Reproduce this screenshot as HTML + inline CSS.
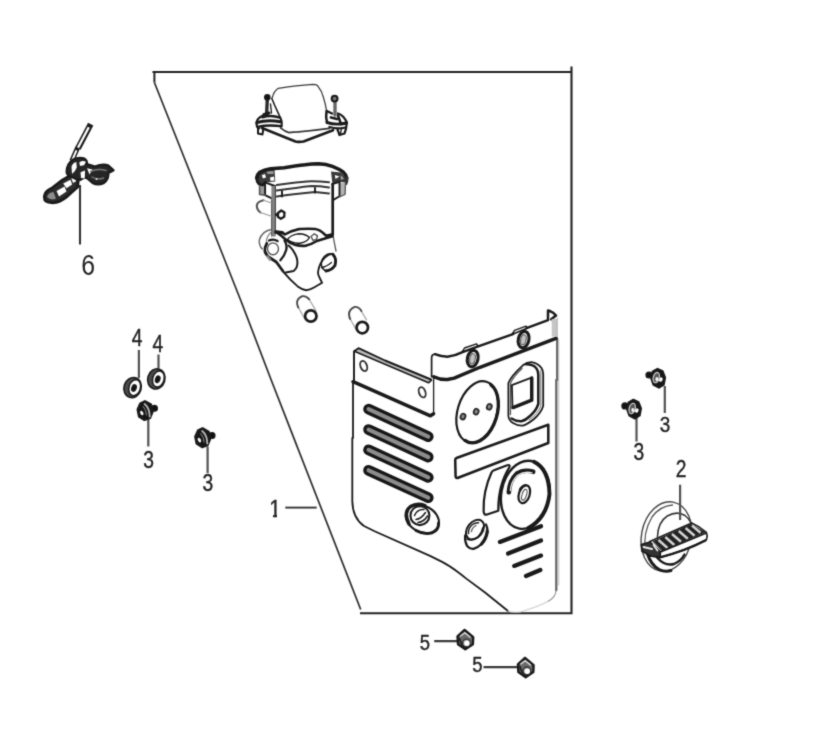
<!DOCTYPE html>
<html lang="en">
<head>
<meta charset="utf-8">
<title>Parts diagram</title>
<style>
html,body{margin:0;padding:0;background:#fff;}
body{width:827px;height:730px;overflow:hidden;font-family:"Liberation Sans",sans-serif;}
svg{display:block;}
.s{fill:none;stroke:#1a1a1a;stroke-linecap:round;stroke-linejoin:round;}
.t{font-family:"Liberation Sans",sans-serif;fill:#222;stroke:#222;stroke-width:.4px;}
</style>
</head>
<body>
<svg width="827" height="730" viewBox="0 0 827 730">
<defs><filter id="soft" x="0" y="0" width="827" height="730" filterUnits="userSpaceOnUse" color-interpolation-filters="sRGB"><feConvolveMatrix order="3" kernelMatrix="1 4 1 4 20 4 1 4 1" edgeMode="duplicate" preserveAlpha="false"/></filter></defs>
<rect width="827" height="730" fill="#fff"/>
<g filter="url(#soft)">
<g id="frame" class="s" style="stroke:#222;stroke-linecap:butt;stroke-linejoin:miter">
<path d="M152.500 72H572" stroke-width="2.100"/>
<path d="M571.500 66.500V613.300H360" stroke-width="2.100"/>
<path d="M154.400 72V82.500" stroke-width="2"/>
<path d="M154.400 82.500L240.600 300L271.200 380L360.700 609.500" stroke-width="1.750" style="stroke:#303030"/>
</g>
<g id="panel" class="s" stroke-width="2">
<!-- left flange -->
<path d="M356 350.800L358.500 348.800L385 360.800L431 379.600L428.500 382.500L355.500 351.500Z" style="fill:#bdbdbd;stroke:none"/>
<path d="M354 382V351.300L358.500 348.200L385 360.500L431 379.500" stroke-width="1.900"/>
<path d="M355 351.400L428.500 382.800L431.500 380.200" stroke-width="1.600"/>
<path d="M353 381.700L430.400 415.800L433.600 413.800" stroke-width="3.500"/>
<path d="M433.6 378V414" stroke-width="1.3"/>
<ellipse cx="363.700" cy="366" rx="3.200" ry="5.300" transform="rotate(-20 363.700 366)" stroke-width="1.900" style="stroke:#333"/>
<ellipse cx="422.200" cy="392.300" rx="3.200" ry="5.300" transform="rotate(-20 422.200 392.300)" stroke-width="1.900" style="stroke:#333"/>
<!-- panel outline -->
<path d="M353 382V438M352.300 438V501C352.500 512 356 520.500 364 526L374.600 531.200L430 555.900L442.100 561.900Q452 567 466.300 578.600L484.400 592L508 611" stroke-width="1.800"/>
<path d="M508 611Q512 613 521 611.800Q540 606 548.500 601" stroke-width="1.200" style="stroke:#cfcfcf"/>
<path d="M548.500 601Q556 597 556 590" stroke-width="1.200" style="stroke:#999"/>
<path d="M557.200 339V380M556.300 380V590" stroke-width="2.300" style="stroke:#666"/>
<path d="M558.800 340V585" stroke-width="1" style="stroke:#c4c4c4"/>
<!-- right bracket -->
<path d="M431.600 376.700V358Q431.600 354.500 435 354.200" stroke-width="1.700"/>
<path d="M435 354.200Q441 356.800 447.400 356.800Q455 356 462.500 352.200L477.500 346.600L513 334.100M526.500 328.200L548 320.200V310.500Q553 311.500 556 315.600L551.200 319.200" stroke-width="2.500"/>
<path d="M551.700 319H557V336.500H551.700Z" style="fill:#c6c6c6;stroke:none"/>
<path d="M557.200 318V338" stroke-width="1" style="stroke:#aaa"/>
<path d="M433.700 376.700Q440 379.800 447.400 379.500L454.200 378.100L480 367.300L556 338.400" stroke-width="3.400"/>
<path d="M462.500 351.500L464.500 348L476.500 343.800L478 346" stroke-width="1.400"/>
<circle cx="463" cy="351.600" r="1.300" style="fill:#1a1a1a;stroke:none"/>
<path d="M512.500 333.700L514.500 330.300L526 326.200L527.500 328" stroke-width="1.400"/>
<circle cx="513" cy="333.800" r="1.300" style="fill:#1a1a1a;stroke:none"/>
<path d="M513 334.100L526.500 328.600" stroke-width="1.600"/>
<ellipse cx="472.700" cy="358.600" rx="5.300" ry="8.300" transform="rotate(12 472.700 358.600)" stroke-width="3.100"/>
<ellipse cx="472.500" cy="358.800" rx="2.700" ry="5.200" transform="rotate(12 472.500 358.800)" stroke-width="1.200" style="fill:#c4c4c4;stroke:#666"/>
<ellipse cx="523.600" cy="339.600" rx="5.300" ry="8.300" transform="rotate(12 523.600 339.600)" stroke-width="3.100"/>
<ellipse cx="523.400" cy="339.800" rx="2.700" ry="5.200" transform="rotate(12 523.400 339.800)" stroke-width="1.200" style="fill:#c4c4c4;stroke:#666"/>
<!-- slots -->
<g style="stroke:#161616;stroke-width:10.800">
<path d="M368.6 409.2L428.2 436.6"/>
<path d="M368.6 429.6L428.2 457.0"/>
<path d="M368.6 449.9L428.2 477.3"/>
<path d="M368.6 470.3L428.2 497.7"/>
</g>
<g style="stroke:#8c8c8c;stroke-width:4.200">
<path d="M368.6 409.2L428.2 436.6"/>
<path d="M368.6 429.6L428.2 457.0"/>
<path d="M368.6 449.9L428.2 477.3"/>
<path d="M368.6 470.3L428.2 497.7"/>
</g>
<!-- round plate -->
<ellipse cx="477.2" cy="412.0" rx="19.6" ry="31.6" transform="rotate(17 477.2 412.0)" stroke-width="2.200"/>
<path d="M490.8 384.6A19.2 31.2 17 0 1 465.0 440.4" stroke-width="3.300"/>
<g stroke-width="1.800" style="fill:#8a8a8a;stroke:#2a2a2a">
<ellipse cx="463" cy="416.600" rx="2.400" ry="2.900" transform="rotate(20 463 416.600)"/>
<ellipse cx="476.200" cy="411.700" rx="2.400" ry="2.900" transform="rotate(20 476.200 411.700)"/>
<ellipse cx="489.300" cy="406.800" rx="2.400" ry="2.900" transform="rotate(20 489.300 406.800)"/>
</g>
<!-- switch -->
<path d="M508.400 383Q511 376 522.900 365.300Q527 362 531.600 362.100Q537.500 363 541.500 368Q543.200 370.500 543.200 374V406Q541 413 534 419Q528 424 522.900 425.600Q518 426 513 423Q508.800 420.500 508.400 416Z" stroke-width="1.800"/>
<path d="M526 364.300Q530 363.800 534 366Q538.300 369 538.300 375V404Q536 411 530 416Q526 420 521.500 421.300Q516 421.500 511.500 418.500" stroke-width="2.500"/>
<path d="M540.800 370V406Q538 414 529 420" stroke-width="1" style="stroke:#777"/>
<path d="M510.500 383.500Q512 378 522 368.500M510.500 383.500V414.500" stroke-width="1.200" style="stroke:#555"/>
<path d="M511.900 385.100L532.200 377.400V400.400L512.500 408.100Z" stroke-width="1.800"/>
<path d="M531.700 378V400.200L513 407.600" stroke-width="3.400"/>
<!-- label rect -->
<path d="M456.500 458L548.300 424.800V443L457.500 478Q455.700 478.500 455.600 476.500L455.200 460Q455.200 458.500 456.500 458Z" stroke-width="2.500"/>
<!-- knob -->
<ellipse cx="525.300" cy="494.800" rx="24" ry="34.300" transform="rotate(10 525.300 494.800)" stroke-width="2.400"/>
<path d="M534 461.800Q548.800 469 549.500 494Q546.800 518 528 528.200" stroke-width="3.900"/>
<path d="M508.800 492.300Q509.500 480.500 516.600 473.800Q524 469 533.200 471.800" stroke-width="4.600"/>
<path d="M510.300 490.500Q511 481.500 517.500 475.300Q524.500 471 532 472.800" stroke-width="1.300" style="stroke:#e8e8e8"/>
<ellipse cx="524.300" cy="494.300" rx="5.400" ry="9.200" transform="rotate(18 524.300 494.300)" stroke-width="2.200"/>
<path d="M520 490Q521.500 486 525.500 485.200" stroke-width="2.600"/>
<ellipse cx="524.300" cy="494.800" rx="2.200" ry="5.600" transform="rotate(18 524.300 494.800)" stroke-width="1.100" style="stroke:#555"/>
<path d="M494 470.300L506.500 465.500Q510.500 464 509.500 467Q498 485 498.300 510.800L487 514.500Q483.800 515.500 483.600 511Q483 491 491.500 472.500Q492.500 470.800 494 470.300Z" stroke-width="2.200"/>
<!-- grommets -->
<ellipse cx="422.400" cy="519" rx="17.500" ry="13" transform="rotate(28 422.400 519)" stroke-width="2.100"/>
<path d="M438.500 523Q439 530 432 533Q424 535 416 530.500" stroke-width="2.800"/>
<path d="M409 524Q403 512 410.500 506.500Q417 502.500 425 505.500" stroke-width="3.400"/>
<ellipse cx="419.900" cy="515.600" rx="9.500" ry="9.500" stroke-width="2.100"/>
<path d="M414.500 515.500Q417 509 424 509.500M416 519.500Q421 519 425.500 512.500M418 522.500Q424 522 427.500 516" stroke-width="1.500"/>
<ellipse cx="475" cy="529.600" rx="11" ry="7.600" transform="rotate(-52 475 529.600)" stroke-width="2"/>
<path d="M465.200 535.500Q464.500 541 467.100 546Q470 549.300 473.500 548.900Q478 547.500 481.500 544Q486 539 487.300 532.500Q488 528 486 524.500" stroke-width="2.300"/>
<path d="M481.500 544Q486.500 538.500 487.300 531" stroke-width="3.200"/>
<path d="M468.500 533.500Q468 528 472.500 524.500Q475.500 522.500 478.500 522.800" stroke-width="1.500"/>
<path d="M471.500 531.500Q472 527.500 476 525.500" stroke-width="1.300" style="stroke:#555"/>
<path d="M467 539Q472 541.500 478 537Q482 533 483 527.500" stroke-width="1.600"/>
<!-- louvres -->
<g stroke-width="4.300">
<path d="M499.9 541.9L541 526.2"/>
<path d="M508.1 553.6L541 540.5"/>
<path d="M514.2 565.9L541 555.6"/>
<path d="M526 575.900L540.300 570"/>
</g>
</g>
<g id="cover" class="s" stroke-width="1.57">
<!-- dome -->
<path d="M272.300 97.600Q274 91 278.300 88.300Q295 85.500 312.800 84.300Q316 84.300 317.500 85.600Q322 91 323.500 97.600Q325.500 104 326.500 110.500" stroke-width="1.300" style="stroke:#3a3a3a"/>
<path d="M280.500 127.800Q285 131.500 289 132.600Q308 131.300 329.500 128.400" stroke-width="1.68" style="stroke:#333"/>
<!-- gasket -->
<path d="M262 128L283 136.500L295.500 141.500Q299.500 142.400 303.500 141.500L333 130.200" stroke-width="2.700"/>
<!-- left mount -->
<path d="M267.300 99L266.600 114.500" stroke-width="3.36" style="stroke:#2a2a2a"/>
<circle cx="267.300" cy="97.300" r="2.500" stroke-width="1.68" style="fill:#111"/>
<path d="M271.800 98.500L275 106L280.400 117.900" stroke-width="1.57"/>
<path d="M270.500 104L271.500 113" stroke-width="1.36"/>
<path d="M262.500 117.300Q271 114.500 280 117.600" stroke-width="2.52"/>
<path d="M256.800 122.500Q268 119.500 280.500 121.800" stroke-width="2.94"/>
<path d="M257.500 126.800Q268 124.500 281.500 126.200" stroke-width="2.31"/>
<path d="M263 115.500Q256.500 118.500 256.500 123Q256.300 127 259 128.500" stroke-width="2.10"/>
<path d="M280.400 117.900Q282.500 121.500 281.500 126.500" stroke-width="1.89"/>
<path d="M258 128.500V133.500L262.500 134.500L263.200 129.500" stroke-width="1.99"/>
<path d="M264 114.500L269 113" stroke-width="3.15" />
<!-- right mount -->
<path d="M335 102.500V115" stroke-width="3.36" style="stroke:#666"/>
<circle cx="334.600" cy="98.600" r="2.900" stroke-width="2.10" style="fill:#777"/>
<path d="M326.800 111L332 113.500M338 113.500Q343.500 115 346.800 122.500" stroke-width="2.31"/>
<path d="M326.500 111.500Q325.500 117.500 327 122.500" stroke-width="2.52"/>
<path d="M327 122.500Q336 125.500 346.500 123" stroke-width="2.94"/>
<path d="M331 117.500L337 119" stroke-width="2.73"/>
<path d="M338 115.500L341 124" stroke-width="2.52"/>
<path d="M329.500 127Q337 129.500 345.500 127.500" stroke-width="2.31"/>
<path d="M346.800 122.500Q346.500 129 344.500 133.500L339.500 135L337.500 129.500" stroke-width="2.21"/>
<path d="M341.500 128L340.500 134" stroke-width="1.36"/>
</g>
<g id="housing" class="s" stroke-width="1.65">
<!-- rim -->
<path d="M257 177Q258 172.500 263 170.500L274.500 169.300L275.300 181.500L265.500 182.500L262.500 185.500L258 183.500Z" style="fill:#3a3a3a;stroke:none"/>
<path d="M261.800 175.300L265 174L266 177.500L263 178.500ZM270 177.500L274 176.500L274.500 180.500L270.500 181Z" style="fill:#fff;stroke:none"/>
<path d="M266.500 171.500L273.500 171V174L267.500 174Z" style="fill:#999;stroke:none"/>
<path d="M331 171.500L341 172.500L346.500 178L346 182.500L339.500 182L332.500 184.300Z" style="fill:#3a3a3a;stroke:none"/>
<path d="M334.800 175L339.500 176.500L335.500 179Z" style="fill:#fff;stroke:none"/>
<path d="M340.500 175L344 178.500L341 180Z" style="fill:#aaa;stroke:none"/>
<path d="M256.700 178Q257.500 174 259.800 172.200Q264 169.800 270.500 168.800L284.200 167.700Q293 166.400 298.400 165.500L305 164.800Q312 163.700 318.700 163.700Q326 164 332.400 166.300Q339 168.800 343.400 172.200Q346.500 175 346.800 178" stroke-width="3.500"/>
<path d="M256.600 177.500Q256.600 181.500 259 184L262.500 185.600L265.100 182.600" stroke-width="2.800"/>
<path d="M259.700 186.500H265V195H259.700Z" style="fill:#9a9a9a;stroke:none"/>
<path d="M265.100 182.400L274.800 186V199.900L265.100 195.100Z" stroke-width="1.900" style="fill:#fff"/>
<path d="M259.600 186V194.500L265.100 195.100" stroke-width="1.600" style="stroke:#555"/>
<path d="M346.800 178Q347.300 181 346 183.500" stroke-width="3" style="stroke:#333"/>
<path d="M339.700 183H345.500V194L339.700 196.300Z" style="fill:#b4b4b4;stroke:none"/>
<path d="M332.200 184.200L339.500 181.800V196.300L333.400 199.900" stroke-width="1.900"/>
<path d="M345.500 183.500L345 194.500L339.500 196.800" stroke-width="1.300" style="stroke:#555"/>
<!-- inner wall lines -->
<path d="M276.700 184.900Q295 182.400 307 181.400Q318 181.100 329 182.200" stroke-width="2" style="stroke:#333"/>
<path d="M276.700 190.500Q295 187.900 311.500 186.100Q320 186.100 329 187.400" stroke-width="2" style="stroke:#333"/>
<path d="M276.700 196.500Q295 194 315 192.100L329 193.500" stroke-width="2" style="stroke:#333"/>
<path d="M315 188V192.500M282 191.200V196.500" stroke-width="1.900"/>
<!-- walls -->
<path d="M273.500 186V236.500" stroke-width="4.200" style="stroke:#858585;stroke-linecap:butt"/>
<path d="M275.400 186V234" stroke-width="1.100" style="stroke:#444"/>
<path d="M271.600 200V236" stroke-width="1" style="stroke:#555"/>
<path d="M332.700 184V235" stroke-width="2.700"/><path d="M332.900 235Q334.200 242 336 251" stroke-width="1.300" style="stroke:#555"/>
<!-- small tube at left -->
<path d="M263.500 200.300Q257.300 201.500 256.800 205.500Q256.800 210 260.500 212.500" stroke-width="2.100" style="stroke:#555"/>
<path d="M260.500 212.500L271.500 216.200M263.500 200.300L271.500 203" stroke-width="1.100" style="stroke:#999"/>
<path d="M278 213L281.300 210.500L284.500 212.500L284.200 216.800L280.800 218.800L277.800 216.800Z" stroke-width="2.300"/>
<path d="M276 214.500L278 215" stroke-width="2.400"/>
<!-- floor -->
<path d="M275.600 231.900L282.500 232.500L284.800 234.500Q291 230.500 299.900 229Q308 228.500 315.200 228.900Q320 230 322.800 232.700L326.200 235.700L332.500 234.200" stroke-width="2.500"/>
<path d="M276 232L282 232.700" stroke-width="3.400"/>
<path d="M278 233.500Q282 236 285 239Q290 243.500 295.500 245Q301 246.300 306.200 245.600Q312 244 316.800 241L332.300 236.300" stroke-width="2.64"/>
<path d="M287.500 239.500Q291 234.500 299 233.800Q305.500 233.800 309.500 237.500Q307 242 300 243.200Q292.500 243.500 287.500 239.500Z" stroke-width="1.400"/>
<path d="M311 236.500L314.300 233.800L317.500 235.800L316.500 239.300L313 240.300Z" stroke-width="1.400" style="stroke:#555"/>
<!-- outlet tube -->
<path d="M271.400 229.500Q262 231 259.300 240Q258.800 245.500 262.300 249" stroke-width="1.400" style="stroke:#666"/>
<path d="M272 231.500Q266 236 266.300 243" stroke-width="1.100" style="stroke:#777"/>
<ellipse cx="273" cy="248.800" rx="5.500" ry="5.900" stroke-width="1.400" style="stroke:#555"/>
<path d="M269 240.500Q273.500 238.500 277.500 241" stroke-width="2.400"/>
<path d="M266.800 243.500Q264.300 247.500 264.900 251.500Q266.500 256 271 258.500L276.300 262L282.900 271" stroke-width="2.800"/>
<path d="M267.500 256.500L270 259.500" stroke-width="2.600" style="stroke:#888"/>
<path d="M284.500 240.600Q287.500 245 286.200 250Q284.500 256 280.400 260.300" stroke-width="2.300"/>
<path d="M288.600 245.500Q294 250 296.800 258Q298.200 263.600 296.500 267.500Q295 270 293.600 271L284.500 272.700" stroke-width="2"/>
<!-- lower body -->
<path d="M283.600 272.200Q290 280 298.200 286.800Q302 289.800 306.200 290.200Q310 290 314 287.500L322.100 282.800L319.500 277.500Q317.500 274 318.200 270.900Q319.500 263 324.800 257.600Q328 254.500 332.800 253.600" stroke-width="1.87"/>
<!-- right port -->
<ellipse cx="328.500" cy="262.300" rx="6.800" ry="8.800" transform="rotate(25 328.500 262.300)" stroke-width="1.54"/>
<path d="M333 254.500Q337 259 335 265.500Q332 270 326 271" stroke-width="2.86"/>
<path d="M321.500 267.500Q326 267 331.500 262.500" stroke-width="1.32"/>
</g>
<g id="tubes" class="s" stroke-width="1.300">
<path d="M304.600 318.600L297.300 305.500M309 299L315.900 310.600" stroke-width="1.300" style="stroke:#a8a8a8"/>
<path d="M298.300 307.500Q294.500 299.500 302.300 296.200Q306.500 295.800 309.200 299.300" stroke-width="1.900" style="stroke:#4a4a4a"/>
<circle cx="310.800" cy="316" r="5.700" stroke-width="2.700"/>
<path d="M356.500 330.500L349.200 317M361.200 310.800L366.500 319.900" stroke-width="1.300" style="stroke:#a8a8a8"/>
<path d="M350.200 319Q346.500 310.500 354.700 306.900Q358.800 306.500 361.400 311" stroke-width="1.900" style="stroke:#4a4a4a"/>
<circle cx="362.300" cy="327.600" r="5.700" stroke-width="2.700"/>
</g>
<g id="part6" class="s" stroke-width="1.500">
<path d="M80 185V244.500" stroke-width="2.100" style="stroke:#333;stroke-linecap:butt"/>
<!-- rod -->
<path d="M90.700 124.200L78 148.300" stroke-width="6" style="stroke:#1c1c1c;stroke-linecap:butt"/>
<path d="M88.800 127.300L77.700 148.300" stroke-width="2.300" style="stroke:#fff;stroke-linecap:butt"/>
<path d="M77.700 147.500L71.800 161" stroke-width="5" style="stroke:#1c1c1c;stroke-linecap:butt"/>
<path d="M76.200 151L72.500 159.500" stroke-width="1.900" style="stroke:#fff"/>
<!-- base -->
<path d="M44.200 196.500Q45 191 51.600 188.300L62.200 180L69 176L78.500 179.500L77.700 187L67.100 196.600Q60 202 54.500 202.800Q47 203.200 44.800 200.300Z" stroke-width="2.600" style="fill:#2c2c2c"/>
<path d="M47 197Q48.500 192.500 53.500 192L56 198.500Q51 201 47 197Z" style="fill:#8c8c8c;stroke:none"/>
<path d="M56.500 191L64.500 186.500L66.500 191.500L59 196.500Z" style="fill:#fff;stroke:none"/>
<path d="M63.200 183.500L70.500 179.800L72.200 184.500L66.500 188.300Z" style="fill:#fff;stroke:none"/>
<path d="M71.300 177.800L75.200 176.800L76 181.200L73 183Z" style="fill:#fff;stroke:none"/>
<!-- clamp -->
<path d="M66.500 172Q66.500 163.500 73 159.500Q79 156.500 84.500 158.500Q87.500 160.500 87 164L95 166.500Q103 163 108.500 165.500L113.700 170.300L108.500 173Q109 179 104 183Q98 186 92.500 183L85.500 177L80.500 180Q76 180 71.500 177Q67 175.500 66.500 172Z" stroke-width="2" style="fill:#262626"/>
<path d="M71.500 166.500Q73 162.500 76.300 162L76.800 167.500Q75 172 72 174ZM79.300 162.500Q82.500 160 86 161.800L84 165.300L80 166ZM80.500 172.300L85 170.500L84.800 178.500L81 178ZM87 168.300L92.500 169.500L89.500 174.500Z" style="fill:#fff;stroke:none"/>
<path d="M90.500 171.500Q98 168 106 170.500M92 177Q98 180.500 103.500 178" stroke-width="1.400" style="stroke:#7a7a7a"/>
<circle cx="96.500" cy="179" r="1" style="fill:#eee;stroke:none"/>
</g>
<g id="washers" class="s">
<path d="M138.900 350.100V378M158.500 354.500V368.500" stroke-width="2.200" style="stroke:#525252;stroke-linecap:butt"/>
<g id="w1">
<ellipse cx="132.600" cy="387.600" rx="8.600" ry="10.200" transform="rotate(17 132.600 387.600)" stroke-width="1.600" style="fill:#4a4a4a"/>
<ellipse cx="134.700" cy="387.700" rx="5.700" ry="8.200" transform="rotate(17 134.700 387.700)" stroke-width="1.500" style="fill:#fff"/>
<ellipse cx="134" cy="388" rx="2.100" ry="3.300" transform="rotate(17 134 388)" stroke-width="1.400" style="fill:#111"/>
</g>
<g id="w2" transform="translate(23.700 -8.700)">
<ellipse cx="132.600" cy="387.600" rx="8.600" ry="10.200" transform="rotate(17 132.600 387.600)" stroke-width="1.600" style="fill:#4a4a4a"/>
<ellipse cx="134.700" cy="387.700" rx="5.700" ry="8.200" transform="rotate(17 134.700 387.700)" stroke-width="1.500" style="fill:#fff"/>
<ellipse cx="134" cy="388" rx="2.100" ry="3.300" transform="rotate(17 134 388)" stroke-width="1.400" style="fill:#111"/>
</g>
</g>
<g id="bolts" class="s">
<path d="M148.300 419V446.500M207.600 446.500V473M664.800 386V413M636.500 418V441.600" stroke-width="2.200" style="stroke:#525252;stroke-linecap:butt"/>
<g id="bl1">
<circle cx="154.500" cy="408.300" r="2.900" stroke-width="1.200" style="fill:#111"/>
<path d="M145 401.200L151 404.500L152.700 411.500L150 418L144.500 420L139 416.500L137.600 409.500L140.300 403.500Z" stroke-width="2.200" style="fill:#161616"/>
<path d="M144.600 404Q149.500 408 149.700 416.500" stroke-width="1.900" style="stroke:#b4b4b4"/>
<path d="M143.200 406.500Q146.500 410 146.500 415" stroke-width="1" style="stroke:#888"/>
<ellipse cx="141.800" cy="413" rx="1.500" ry="2.400" transform="rotate(-30 141.800 413)" style="fill:#f4f4f4;stroke:none"/>
</g>
<g id="bl2" transform="translate(57.600 27.100)">
<circle cx="154.500" cy="408.300" r="2.900" stroke-width="1.200" style="fill:#111"/>
<path d="M145 401.200L151 404.500L152.700 411.500L150 418L144.500 420L139 416.500L137.600 409.500L140.300 403.500Z" stroke-width="2.200" style="fill:#161616"/>
<path d="M144.600 404Q149.500 408 149.700 416.500" stroke-width="1.900" style="stroke:#b4b4b4"/>
<path d="M143.200 406.500Q146.500 410 146.500 415" stroke-width="1" style="stroke:#888"/>
<ellipse cx="141.800" cy="413" rx="1.500" ry="2.400" transform="rotate(-30 141.800 413)" style="fill:#f4f4f4;stroke:none"/>
</g>
<g id="br1">
<circle cx="649" cy="375" r="3" stroke-width="1.200" style="fill:#111"/>
<path d="M657.500 368.800L652.500 371.700L651.200 378.500L653.500 384.800L659 387.700L663.800 384.600L665.100 377.500L662.600 371.200Z" stroke-width="2" style="fill:#161616"/>
<ellipse cx="656.300" cy="377.600" rx="3" ry="5.200" transform="rotate(15 656.300 377.600)" stroke-width="1.300" style="stroke:#c8c8c8;fill:#555"/>
<ellipse cx="656.900" cy="379.200" rx="1.500" ry="2.100" style="fill:#f4f4f4;stroke:none"/>
<ellipse cx="660.900" cy="379.600" rx="1.700" ry="2.300" transform="rotate(25 660.900 379.600)" style="fill:#fff;stroke:none"/>
</g>
<g id="br2" transform="translate(-24.100 30.900)">
<circle cx="649" cy="375" r="3" stroke-width="1.200" style="fill:#111"/>
<path d="M657.500 368.800L652.500 371.700L651.200 378.500L653.500 384.800L659 387.700L663.800 384.600L665.100 377.500L662.600 371.200Z" stroke-width="2" style="fill:#161616"/>
<ellipse cx="656.300" cy="377.600" rx="3" ry="5.200" transform="rotate(15 656.300 377.600)" stroke-width="1.300" style="stroke:#c8c8c8;fill:#555"/>
<ellipse cx="656.900" cy="379.200" rx="1.500" ry="2.100" style="fill:#f4f4f4;stroke:none"/>
<ellipse cx="660.900" cy="379.600" rx="1.700" ry="2.300" transform="rotate(25 660.900 379.600)" style="fill:#fff;stroke:none"/>
</g>
</g>
<g id="nuts" class="s">
<path d="M434.200 641.200H457M483.500 667.200H518" stroke-width="2.200" style="stroke:#3a3a3a;stroke-linecap:butt"/>
<g id="n1">
<path d="M464.600 629.900L473.200 637.200L472.900 644.200L465.300 649.300L458 644.200L457.500 636.500Z" stroke-width="2.400" style="fill:#6a6a6a"/>
<path d="M460.500 636L464.800 632.800L470 637" stroke-width="1.400" style="stroke:#ddd"/><path d="M459.500 638.500Q461.500 646 465.500 647.500" stroke-width="1.600"/>
<circle cx="466.400" cy="642.900" r="3.800" stroke-width="1.300" style="stroke:#333;fill:#999"/>
<circle cx="466.900" cy="643.300" r="2.700" style="fill:#fff;stroke:none"/>
</g>
<g id="n2" transform="translate(60.400 27.900)">
<path d="M464.600 629.900L473.200 637.200L472.900 644.200L465.300 649.300L458 644.200L457.500 636.500Z" stroke-width="2.400" style="fill:#6a6a6a"/>
<path d="M460.500 636L464.800 632.800L470 637" stroke-width="1.400" style="stroke:#ddd"/><path d="M459.500 638.500Q461.500 646 465.500 647.500" stroke-width="1.600"/>
<circle cx="466.400" cy="642.900" r="3.800" stroke-width="1.300" style="stroke:#333;fill:#999"/>
<circle cx="466.900" cy="643.300" r="2.700" style="fill:#fff;stroke:none"/>
</g>
</g>
<g id="part2" class="s">
<ellipse cx="666.500" cy="536.500" rx="25" ry="35" transform="rotate(11 666.500 536.500)" stroke-width="1.400" style="stroke:#444"/>
<path d="M645.500 551Q642.500 533 652 517Q660 506 672.500 505" stroke-width="1.300" style="stroke:#555"/>
<path d="M657.400 537Q658 522 667.300 516Q677 510.500 685 515.500Q689 518.500 691 523" stroke-width="1.500" style="stroke:#333"/>
<path d="M647.500 554Q651 565 659.100 569.500Q665 572.300 671 570.500" stroke-width="3"/>
<path d="M657 557.500Q665 566.500 674 564Q681 561 684.500 554.500" stroke-width="2.400"/>
<path d="M680.100 484.700V520" stroke-width="2.200" style="stroke:#525252;stroke-linecap:butt"/>
<path d="M649.800 541.600L691.700 522.900Q700 526.500 706.300 532.300Q708 536 706.500 539.500Q685 551 660 557.500L650 556Z" stroke-width="1.600" style="fill:#fff"/>
<path d="M653.500 541.500L691.500 524.300L704.500 532.300L662 550.300Z" stroke-width="1" style="fill:#222"/>
<path d="M658.500 540L667.500 548M665.300 537L674.300 545M672 534L681 541.800M678.800 531L687.800 538.800M685.600 528L694.600 535.800M692 525.500L700.500 532.800" stroke-width="2.500" style="stroke:#d4d4d4;stroke-linecap:butt"/>

<path d="M660.500 551.800L706.300 533" stroke-width="1.800"/>
<path d="M641.300 544.500L650 542L660.300 551.500V556.800L651 556.300L641.800 551Z" stroke-width="1.600" style="fill:#333"/>
<path d="M643.500 547L652 549M653.500 545L657.500 550.500" stroke-width="1.800" style="stroke:#eee"/>
<path d="M660 557.300Q685 551 705.500 540.500" stroke-width="2.400"/>
</g>
<g id="labels" class="t" font-size="23.200">
<text transform="translate(81.200 275.400) scale(.85 1)" font-size="29.200" style="stroke:none">6</text>
<text transform="translate(131.800 345.800) scale(.83 1)">4</text>
<text transform="translate(152.600 351.800) scale(.83 1)">4</text>
<text transform="translate(143.300 468) scale(.83 1)">3</text>
<text transform="translate(202.500 491.400) scale(.83 1)">3</text>
<clipPath id="c1"><rect x="269" y="495" width="8.300" height="11"/><rect x="273" y="505" width="4" height="15"/></clipPath>
<g clip-path="url(#c1)"><text transform="translate(269.200 516.900) scale(.85 1)" font-size="24.500">1</text></g>
<text transform="translate(659.700 432) scale(.85 1)" font-size="22.300">3</text>
<text transform="translate(633.500 459.700) scale(.83 1)">3</text>
<text transform="translate(675.700 476.500) scale(.8 1)" font-size="24">2</text>
<text transform="translate(419.800 649.600) scale(.83 1)" font-size="22.300">5</text>
<text transform="translate(472.300 672) scale(.83 1)" font-size="22.300">5</text>
</g>
<path d="M285.300 507.600H316.700" class="s" stroke-width="1.900" style="stroke:#333;stroke-linecap:butt"/>
</g>
</svg>
</body>
</html>
